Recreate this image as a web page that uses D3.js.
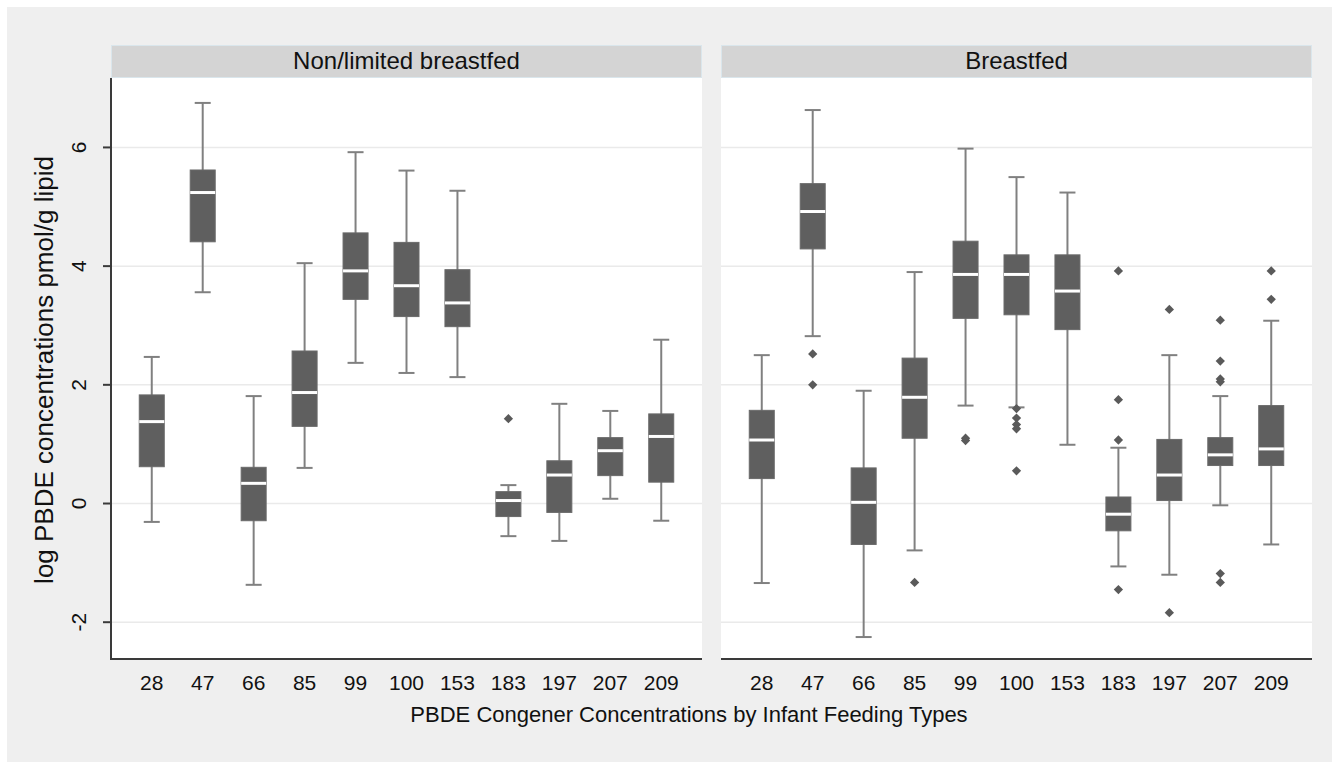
<!DOCTYPE html>
<html>
<head>
<meta charset="utf-8">
<script src="https://cdn.jsdelivr.net/npm/d3@7"></script>
<style>
  html, body { margin: 0; padding: 0; background: #ffffff; }
  svg { display: block; }
  text { font-family: "Liberation Sans", Arial, sans-serif; fill: #111; }
</style>
</head>
<body>
<svg id="chart" width="1339" height="769"></svg>
<script>
// ---- data ----
const congeners = ["28", "47", "66", "85", "99", "100", "153", "183", "197", "207", "209"];
const groups = ["Non/limited breastfed", "Breastfed"];
const yTicks = [-2, 0, 2, 4, 6];

// Non/limited breastfed
const nonLowWhisker = [-0.31, 3.56, -1.37, 0.60, 2.37, 2.20, 2.13, -0.55, -0.63, 0.08, -0.29];
const nonQ1         = [0.62, 4.41, -0.29, 1.30, 3.44, 3.15, 2.98, -0.22, -0.15, 0.47, 0.36];
const nonMedian     = [1.38, 5.24, 0.34, 1.87, 3.92, 3.67, 3.38, 0.05, 0.48, 0.89, 1.13];
const nonQ3         = [1.83, 5.62, 0.61, 2.57, 4.56, 4.40, 3.94, 0.20, 0.72, 1.11, 1.51];
const nonHighWhisker= [2.47, 6.75, 1.81, 4.05, 5.92, 5.61, 5.27, 0.31, 1.68, 1.56, 2.76];
const nonOutliers   = [[], [], [], [], [], [], [], [1.43], [], [], []];

// Breastfed
const bfLowWhisker  = [-1.34, 2.82, -2.25, -0.79, 1.65, 1.62, 0.99, -1.06, -1.20, -0.03, -0.69];
const bfQ1          = [0.42, 4.29, -0.69, 1.10, 3.12, 3.18, 2.93, -0.46, 0.05, 0.64, 0.64];
const bfMedian      = [1.07, 4.92, 0.02, 1.79, 3.86, 3.86, 3.58, -0.18, 0.48, 0.82, 0.92];
const bfQ3          = [1.57, 5.39, 0.60, 2.45, 4.42, 4.19, 4.19, 0.11, 1.08, 1.11, 1.65];
const bfHighWhisker = [2.50, 6.63, 1.90, 3.90, 5.98, 5.50, 5.24, 0.94, 2.50, 1.81, 3.08];
const bfOutliers    = [[], [2.52, 2.00], [], [-1.33], [1.10, 1.06], [1.60, 1.44, 1.33, 1.26, 0.55],
                       [], [3.92, 1.75, 1.07, -1.45], [3.27, -1.84], [3.09, 2.40, 2.10, 2.05, -1.18, -1.33], [3.92, 3.44]];

const xTitle = "PBDE Congener Concentrations by Infant Feeding Types";
const yTitle = "log PBDE concentrations pmol/g lipid";

const panelData = [
  { name: groups[0], lw: nonLowWhisker, q1: nonQ1, med: nonMedian, q3: nonQ3, hw: nonHighWhisker, out: nonOutliers },
  { name: groups[1], lw: bfLowWhisker, q1: bfQ1, med: bfMedian, q3: bfQ3, hw: bfHighWhisker, out: bfOutliers }
];

// ---- layout ----
const svg = d3.select("#chart");
svg.append("rect").attr("x", 7).attr("y", 7).attr("width", 1325).attr("height", 755).attr("fill", "#efefef");

const plotTop = 78, plotBottom = 659;
const stripTop = 45.5;
const panels = [{ x0: 111, x1: 702 }, { x0: 721, x1: 1312 }];

const y = d3.scaleLinear().domain([-2.62, 7.17]).range([plotBottom, plotTop]);

const boxW = 25, capW = 16;
const boxColor = "#5f5f5f", whiskerColor = "#808080";

panelData.forEach((pd, pi) => {
  const p = panels[pi];
  const x = d3.scalePoint().domain(congeners).range([p.x0, p.x1]).padding(0.8);
  const g = svg.append("g");

  g.append("rect").attr("x", p.x0).attr("y", plotTop).attr("width", p.x1 - p.x0).attr("height", plotBottom - plotTop).attr("fill", "#ffffff");
  g.append("rect").attr("x", p.x0 + 0.5).attr("y", stripTop).attr("width", p.x1 - p.x0 - 1).attr("height", plotTop - stripTop - 0.5)
    .attr("fill", "#d4d4d4").attr("stroke", "#dae6ec").attr("stroke-width", 1);
  g.append("text").attr("x", (p.x0 + p.x1) / 2).attr("y", 69).attr("text-anchor", "middle")
    .attr("font-size", 24).text(pd.name);

  g.selectAll(".grid").data(yTicks).join("line")
    .attr("x1", p.x0).attr("x2", p.x1)
    .attr("y1", d => y(d)).attr("y2", d => y(d))
    .attr("stroke", "#eaeaea").attr("stroke-width", 1.5);

  const idx = d3.range(congeners.length);
  g.selectAll(".wl").data(idx).join("line")
    .attr("x1", i => x(congeners[i])).attr("x2", i => x(congeners[i]))
    .attr("y1", i => y(pd.hw[i])).attr("y2", i => y(pd.lw[i]))
    .attr("stroke", whiskerColor).attr("stroke-width", 2);
  g.selectAll(".capH").data(idx).join("line")
    .attr("x1", i => x(congeners[i]) - capW / 2).attr("x2", i => x(congeners[i]) + capW / 2)
    .attr("y1", i => y(pd.hw[i])).attr("y2", i => y(pd.hw[i]))
    .attr("stroke", whiskerColor).attr("stroke-width", 2);
  g.selectAll(".capL").data(idx).join("line")
    .attr("x1", i => x(congeners[i]) - capW / 2).attr("x2", i => x(congeners[i]) + capW / 2)
    .attr("y1", i => y(pd.lw[i])).attr("y2", i => y(pd.lw[i]))
    .attr("stroke", whiskerColor).attr("stroke-width", 2);
  g.selectAll(".box").data(idx).join("rect")
    .attr("x", i => x(congeners[i]) - boxW / 2).attr("width", boxW)
    .attr("y", i => y(pd.q3[i])).attr("height", i => y(pd.q1[i]) - y(pd.q3[i]))
    .attr("fill", boxColor).attr("stroke", "#6a6a6a").attr("stroke-width", 1);
  g.selectAll(".med").data(idx).join("line")
    .attr("x1", i => x(congeners[i]) - boxW / 2).attr("x2", i => x(congeners[i]) + boxW / 2)
    .attr("y1", i => y(pd.med[i])).attr("y2", i => y(pd.med[i]))
    .attr("stroke", "#ffffff").attr("stroke-width", 3);
  const outs = [];
  pd.out.forEach((arr, i) => arr.forEach(v => outs.push({ c: congeners[i], v })));
  const sym = d3.symbol().type(d3.symbolDiamond2).size(55);
  g.selectAll(".out").data(outs).join("path")
    .attr("d", sym)
    .attr("transform", d => `translate(${x(d.c)},${y(d.v)})`)
    .attr("fill", "#5a5a5a");

  g.append("line").attr("x1", p.x0).attr("x2", p.x1).attr("y1", plotBottom).attr("y2", plotBottom)
    .attr("stroke", "#3a3a3a").attr("stroke-width", 2);
  g.selectAll(".xl").data(congeners).join("text")
    .attr("x", d => x(d)).attr("y", 690).attr("text-anchor", "middle")
    .attr("font-size", 21).text(d => d);

  if (pi === 0) {
    g.append("line").attr("x1", p.x0).attr("x2", p.x0).attr("y1", plotTop).attr("y2", plotBottom + 1)
      .attr("stroke", "#3a3a3a").attr("stroke-width", 2);
    g.selectAll(".yt").data(yTicks).join("line")
      .attr("x1", p.x0 - 8).attr("x2", p.x0)
      .attr("y1", d => y(d)).attr("y2", d => y(d))
      .attr("stroke", "#3a3a3a").attr("stroke-width", 2);
    g.selectAll(".yl").data(yTicks).join("text")
      .attr("transform", d => `translate(79,${y(d)}) rotate(-90)`)
      .attr("text-anchor", "middle").attr("dy", "0.35em")
      .attr("font-size", 21).text(d => d);
  }
});

svg.append("text").attr("x", 689).attr("y", 722)
  .attr("text-anchor", "middle").attr("font-size", 22).text(xTitle);
svg.append("text").attr("transform", `translate(44,370) rotate(-90)`)
  .attr("text-anchor", "middle").attr("dy", "0.35em").attr("font-size", 26).text(yTitle);
</script>
</body>
</html>
